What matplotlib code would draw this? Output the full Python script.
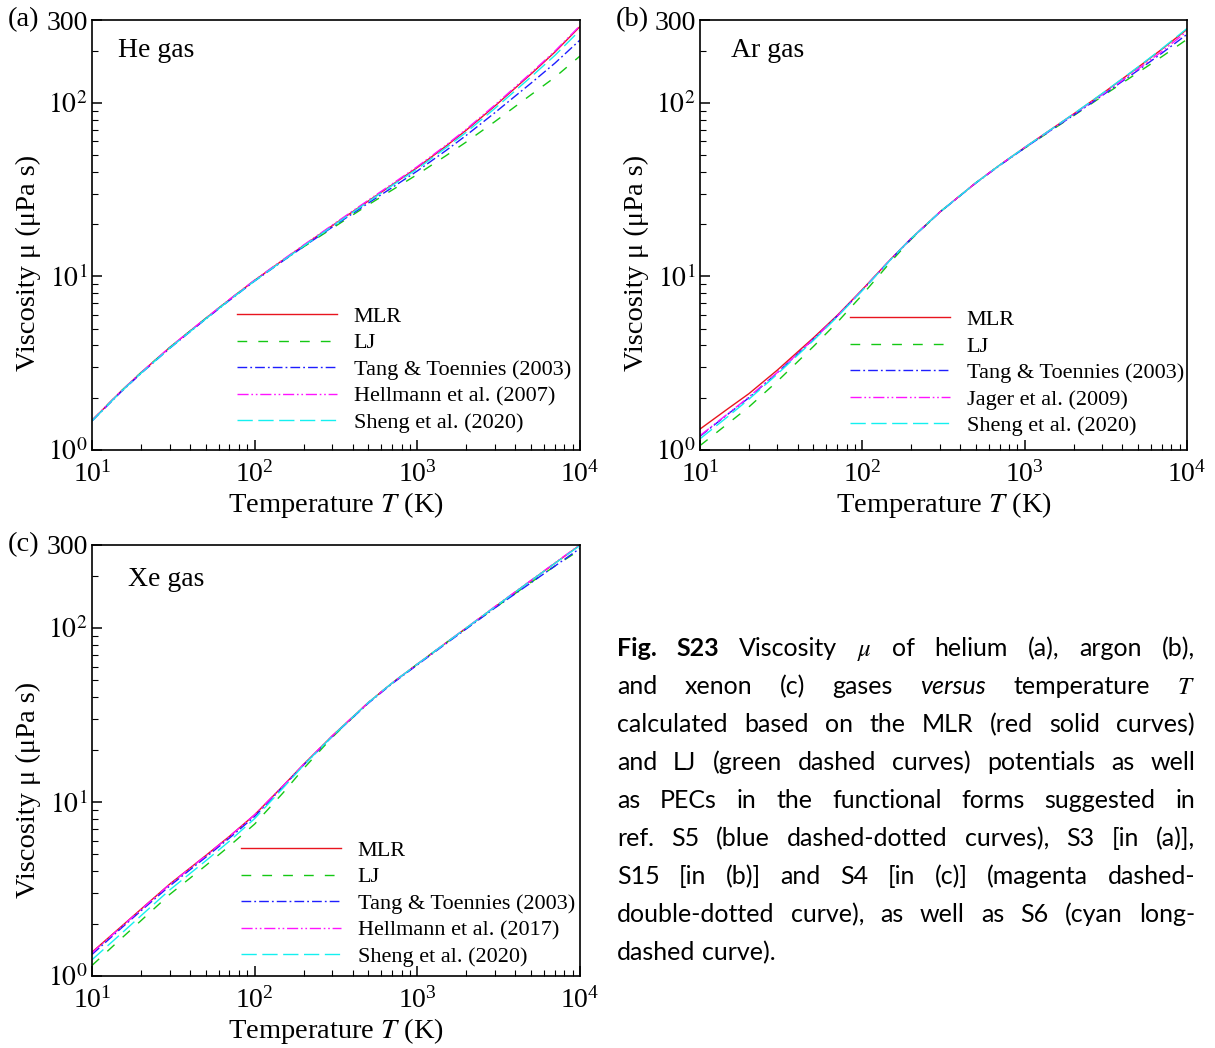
import matplotlib.pyplot as plt
from matplotlib.ticker import FixedLocator, FixedFormatter, LogLocator, NullFormatter
from matplotlib.transforms import IdentityTransform

plt.rcParams['font.family'] = ['Liberation Serif', 'DejaVu Serif']
plt.rcParams['mathtext.fontset'] = 'stix'

# temperature grid (K)
T = [10, 15, 20, 30, 50, 70, 100, 150, 200, 300, 500, 700, 1000, 1500, 2000, 3000, 5000, 7000, 10000]

# viscosity (uPa s)
he_mlr = [1.48, 2.17, 2.79, 3.89, 5.73, 7.35, 9.5, 12.46, 15.07, 19.6, 27.2, 33.7, 42.4, 56.3, 69.6, 95.9, 146.6, 195.8, 275]
he_lj = [1.48, 2.17, 2.79, 3.89, 5.73, 7.35, 9.47, 12.4, 14.8, 18.93, 25.87, 31.44, 38.67, 49.6, 59.5, 78.0, 111.3, 140.2, 186]
he_tt = [1.47, 2.15, 2.76, 3.85, 5.68, 7.28, 9.41, 12.32, 14.86, 19.24, 26.46, 32.48, 40.5, 53.1, 65.0, 87.8, 129.8, 169.0, 230]
he_hel = [1.48, 2.17, 2.79, 3.90, 5.74, 7.37, 9.53, 12.52, 15.16, 19.75, 27.5, 34.1, 42.9, 57.0, 70.5, 97.2, 148.6, 198.3, 278]
he_sheng = [1.47, 2.16, 2.77, 3.86, 5.69, 7.30, 9.43, 12.37, 14.96, 19.44, 26.97, 33.38, 41.6, 55.1, 67.7, 92.9, 141, 187.4, 262]

ar_mlr = [1.32, 1.74, 2.11, 2.89, 4.43, 5.96, 8.4, 12.6, 16.56, 23.47, 34.6, 43.7, 55.3, 71.7, 86.2, 112.7, 160.3, 203.6, 265]
ar_lj = [1.06, 1.43, 1.77, 2.49, 3.95, 5.43, 7.84, 12.17, 16.37, 23.47, 34.6, 43.7, 54.8, 70.6, 84.2, 108.9, 149.6, 184.5, 232]
ar_tt = [1.20, 1.62, 2.00, 2.79, 4.35, 5.90, 8.34, 12.55, 16.5, 23.4, 34.5, 43.5, 54.9, 71.0, 84.8, 110.1, 154.1, 193.1, 248]
ar_jag = [1.21, 1.63, 2.02, 2.80, 4.36, 5.91, 8.36, 12.6, 16.56, 23.47, 34.6, 43.7, 55.3, 71.5, 85.8, 111.4, 156.7, 197.6, 258]
ar_sheng = [1.16, 1.57, 1.96, 2.74, 4.28, 5.84, 8.3, 12.54, 16.56, 23.47, 34.6, 43.7, 55.3, 71.7, 86.3, 113, 161, 205, 268]

xe_mlr = [1.37, 1.91, 2.42, 3.37, 4.92, 6.35, 8.45, 12.42, 16.47, 24.0, 37.3, 48.3, 62.0, 82.1, 100.0, 132.3, 187.2, 235.3, 300]
xe_lj = [1.15, 1.63, 2.08, 2.94, 4.31, 5.59, 7.47, 11.33, 15.57, 23.56, 37.3, 48.3, 62.0, 82.1, 99.5, 130.8, 183.0, 226.7, 281]
xe_tt = [1.33, 1.87, 2.37, 3.29, 4.81, 6.21, 8.26, 12.31, 16.32, 23.8, 37.0, 47.9, 61.4, 81.3, 98.9, 130.5, 182.1, 226.8, 287]
xe_hel = [1.36, 1.90, 2.41, 3.36, 4.91, 6.34, 8.44, 12.42, 16.47, 24.0, 37.3, 48.3, 62.0, 82.2, 100.2, 132.8, 188, 236.5, 301]
xe_sheng = [1.24, 1.74, 2.22, 3.12, 4.59, 5.96, 8.03, 12.08, 16.28, 23.9, 37.3, 48.3, 62.0, 82.1, 100.0, 132.3, 187.2, 235, 298]

panels = [
    ('(a)', 'He gas', [he_mlr, he_lj, he_tt, he_hel, he_sheng],
     ['MLR', 'LJ', 'Tang & Toennies (2003)', 'Hellmann et al. (2007)', 'Sheng et al. (2020)']),
    ('(b)', 'Ar gas', [ar_mlr, ar_lj, ar_tt, ar_jag, ar_sheng],
     ['MLR', 'LJ', 'Tang & Toennies (2003)', 'Jager et al. (2009)', 'Sheng et al. (2020)']),
    ('(c)', 'Xe gas', [xe_mlr, xe_lj, xe_tt, xe_hel, xe_sheng],
     ['MLR', 'LJ', 'Tang & Toennies (2003)', 'Hellmann et al. (2017)', 'Sheng et al. (2020)']),
]

colors = ['#e8141e', '#14c814', '#1e1eff', '#ff14ff', '#14f0f0']
dashes = ['-', (0, (7, 8)), (0, (7, 2.2, 1.3, 2.2)), (0, (8, 2, 1.2, 2, 1.2, 2)), (0, (11, 4))]

W, H = 1215, 1048
fig = plt.figure(figsize=(W / 100, H / 100), dpi=100)

# axes boxes in pixels: left, top, right, bottom
boxes = [(92, 20, 580, 450), (700, 20, 1187, 450), (92, 545, 580, 976)]
tag_pos = [(8, 20), (616, 20), (8, 545)]
name_pos = [(0.053, 0.93), (0.064, 0.93), (0.074, 0.919)]
leg_pos = [(0.297, 0.334), (0.308, 0.327), (0.305, 0.315)]
ylab_y = [0.434, 0.434, 0.431]

for i, (tag, name, series, labels) in enumerate(panels):
    l, t, r, b = boxes[i]
    ax = fig.add_axes([l / W, (H - b) / H, (r - l) / W, (b - t) / H])
    for y, lab, c, ls in zip(series, labels, colors, dashes):
        ax.plot(T, y, color=c, linestyle=ls, lw=1.0, label=lab)
    ax.set_xscale('log')
    ax.set_yscale('log')
    ax.set_xlim(10, 1e4)
    ax.set_ylim(1, 300)
    ax.yaxis.set_major_locator(FixedLocator([1, 10, 100, 300]))
    ax.yaxis.set_major_formatter(FixedFormatter([r'$10^0$', r'$10^1$', r'$10^2$', '300']))
    ax.yaxis.set_minor_locator(LogLocator(base=10, subs=range(2, 10)))
    ax.yaxis.set_minor_formatter(NullFormatter())
    ax.tick_params(which='both', direction='in', top=False, right=False, labelsize=20, pad=3)
    ax.tick_params(axis='x', which='major', pad=8)
    ax.tick_params(which='major', length=7, width=1.1)
    ax.tick_params(which='minor', length=4, width=0.8)
    for sp in ax.spines.values():
        sp.set_linewidth(1.2)
    ax.set_xlabel('Temperature $T$ (K)', fontsize=20.5)
    ax.set_ylabel('Viscosity μ (μPa s)', fontsize=20.5)
    ax.xaxis.set_label_coords(0.5, -0.093)
    ax.yaxis.set_label_coords(-0.105, ylab_y[i])
    ax.text(name_pos[i][0], name_pos[i][1], name, transform=ax.transAxes,
            fontsize=20, va='center', ha='left')
    ax.legend(loc='upper left', bbox_to_anchor=leg_pos[i], frameon=False, fontsize=16,
              handlelength=4.5, handletextpad=0.75, labelspacing=0.27, borderpad=0, borderaxespad=0)
    fig.text(tag_pos[i][0], H - tag_pos[i][1], tag, transform=IdentityTransform(),
             fontsize=20.5, va='center', ha='left')

# caption, justified between two x positions
caption = [
    r'Fig. S23 Viscosity $\mu$ of helium (a), argon (b),',
    r'and xenon (c) gases versus temperature $T$',
    'calculated based on the MLR (red solid curves)',
    'and LJ (green dashed curves) potentials as well',
    'as PECs in the functional forms suggested in',
    'ref. S5 (blue dashed-dotted curves), S3 [in (a)],',
    'S15 [in (b)] and S4 [in (c)] (magenta dashed-',
    'double-dotted curve), as well as S6 (cyan long-',
    'dashed curve).',
]
bold_words = {'Fig.', 'S23'}
italic_words = {'versus'}
cap_x0, cap_x1 = 617, 1195
cap_y0, cap_dy = 656, 38
cap_size = 18

renderer = fig.canvas.get_renderer()
probe = fig.text(0, 0, 'a a', fontsize=cap_size, family='Lato', transform=IdentityTransform())
probe2 = fig.text(0, 0, 'aa', fontsize=cap_size, family='Lato', transform=IdentityTransform())
space_w = probe.get_window_extent(renderer).width - probe2.get_window_extent(renderer).width
probe.remove()
probe2.remove()

for k, line in enumerate(caption):
    ybase = H - (cap_y0 + k * cap_dy)
    words = line.split(' ')
    texts = []
    for w in words:
        weight = 'bold' if (k == 0 and w in bold_words) else 'normal'
        style = 'italic' if w in italic_words else 'normal'
        tx = fig.text(0, ybase, w, fontsize=cap_size, family='Lato', weight=weight, style=style,
                      va='baseline', ha='left', transform=IdentityTransform())
        texts.append((tx, tx.get_window_extent(renderer).width))
    total = sum(wd for _, wd in texts)
    if k < len(caption) - 1 and len(texts) > 1:
        gap = (cap_x1 - cap_x0 - total) / (len(texts) - 1)
    else:
        gap = space_w
    x = cap_x0
    for tx, wd in texts:
        tx.set_x(x)
        x += wd + gap

fig.savefig('out.png', dpi=100)
